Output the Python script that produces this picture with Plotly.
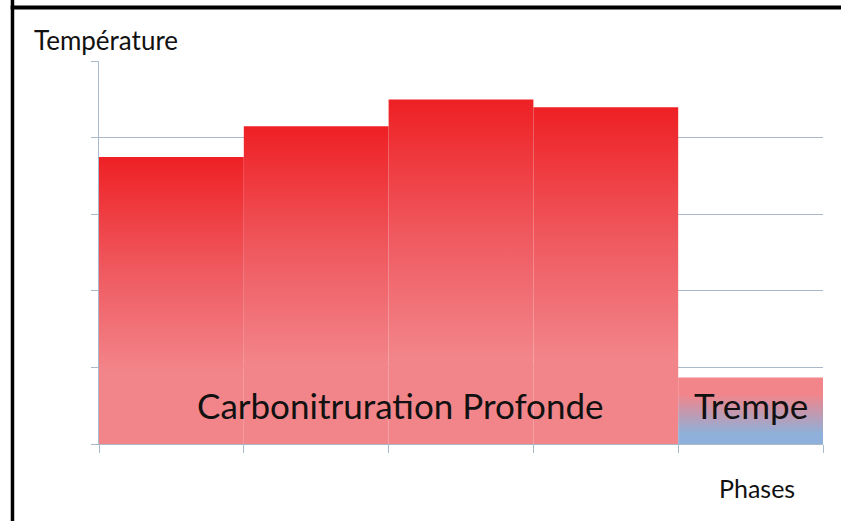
import plotly.graph_objects as go

# Data
phase_index = [0, 1, 2, 3, 4]
temperatures = [3.75, 4.15, 4.50, 4.40, 0.87]
phase_groups = ["carbo", "carbo", "carbo", "carbo", "trempe"]
group_labels = {"carbo": "Carbonitruration Profonde", "trempe": "Trempe"}
y_ticks = [0, 1, 2, 3, 4, 5]

RED = "#ee2024"
PINK = "#f2858a"
BLUE = "#8eb0da"
GRID = "#a9b9c9"
FONT = "Lato"

gradients = {
    "carbo": [[0, PINK], [0.25, PINK], [0.6, "#ef5a60"], [1, RED]],
    "trempe": [[0, BLUE], [0.15, BLUE], [0.75, PINK], [1, PINK]],
}

fig = go.Figure()

for i, t, g in zip(phase_index, temperatures, phase_groups):
    fig.add_trace(go.Scatter(
        x=[i, i + 1, i + 1, i, i],
        y=[0, 0, t, t, 0],
        mode="none",
        fill="toself",
        fillgradient=dict(type="vertical", colorscale=gradients[g]),
        hoverinfo="skip",
        showlegend=False,
    ))

# group labels, centred over their phases
for g, label in group_labels.items():
    idx = [i for i, pg in zip(phase_index, phase_groups) if pg == g]
    xc = (min(idx) + max(idx) + 1) / 2
    if g == "carbo":
        xc = xc + 0.08
    fig.add_annotation(x=xc, y=0.51, text=label, showarrow=False,
                       font=dict(family=FONT, size=35, color="#111111"))

fig.add_annotation(xref="paper", yref="paper", x=-0.0925, y=1.054,
                   xanchor="left", yanchor="middle", text="Température",
                   showarrow=False, font=dict(family=FONT, size=26, color="#111111"))
fig.add_annotation(xref="paper", yref="paper", x=0.909, y=-0.114,
                   xanchor="center", yanchor="middle", text="Phases",
                   showarrow=False, font=dict(family=FONT, size=25, color="#111111"))

# black frame on left and top edges of the picture
fig.add_shape(type="line", xref="paper", yref="paper",
              x0=-0.1195, x1=-0.1195, y0=1.16, y1=-0.3,
              line=dict(color="black", width=3.5))
fig.add_shape(type="line", xref="paper", yref="paper",
              x0=-0.122, x1=1.1, y0=1.1396, y1=1.1396,
              line=dict(color="black", width=4))

fig.update_layout(
    width=841, height=521,
    margin=dict(l=99, r=18, t=61, b=77),
    paper_bgcolor="white", plot_bgcolor="white",
    xaxis=dict(range=[0, 5], tickvals=phase_index + [5], showticklabels=False,
               ticks="outside", ticklen=8, tickcolor=GRID, showgrid=False,
               zeroline=False, showline=True, linecolor=GRID, linewidth=1,
               fixedrange=True),
    yaxis=dict(range=[0, 5.003], tickvals=y_ticks, showticklabels=False,
               ticks="outside", ticklen=7, tickcolor=GRID, showgrid=True,
               gridcolor=GRID, gridwidth=1, zeroline=False, showline=True,
               linecolor=GRID, linewidth=1, fixedrange=True),
)

# drop the page's default body margin so the figure sits at the window corner
fig.write_html("out.html", config={"displayModeBar": False},
               post_script="document.body.style.margin='0';")
